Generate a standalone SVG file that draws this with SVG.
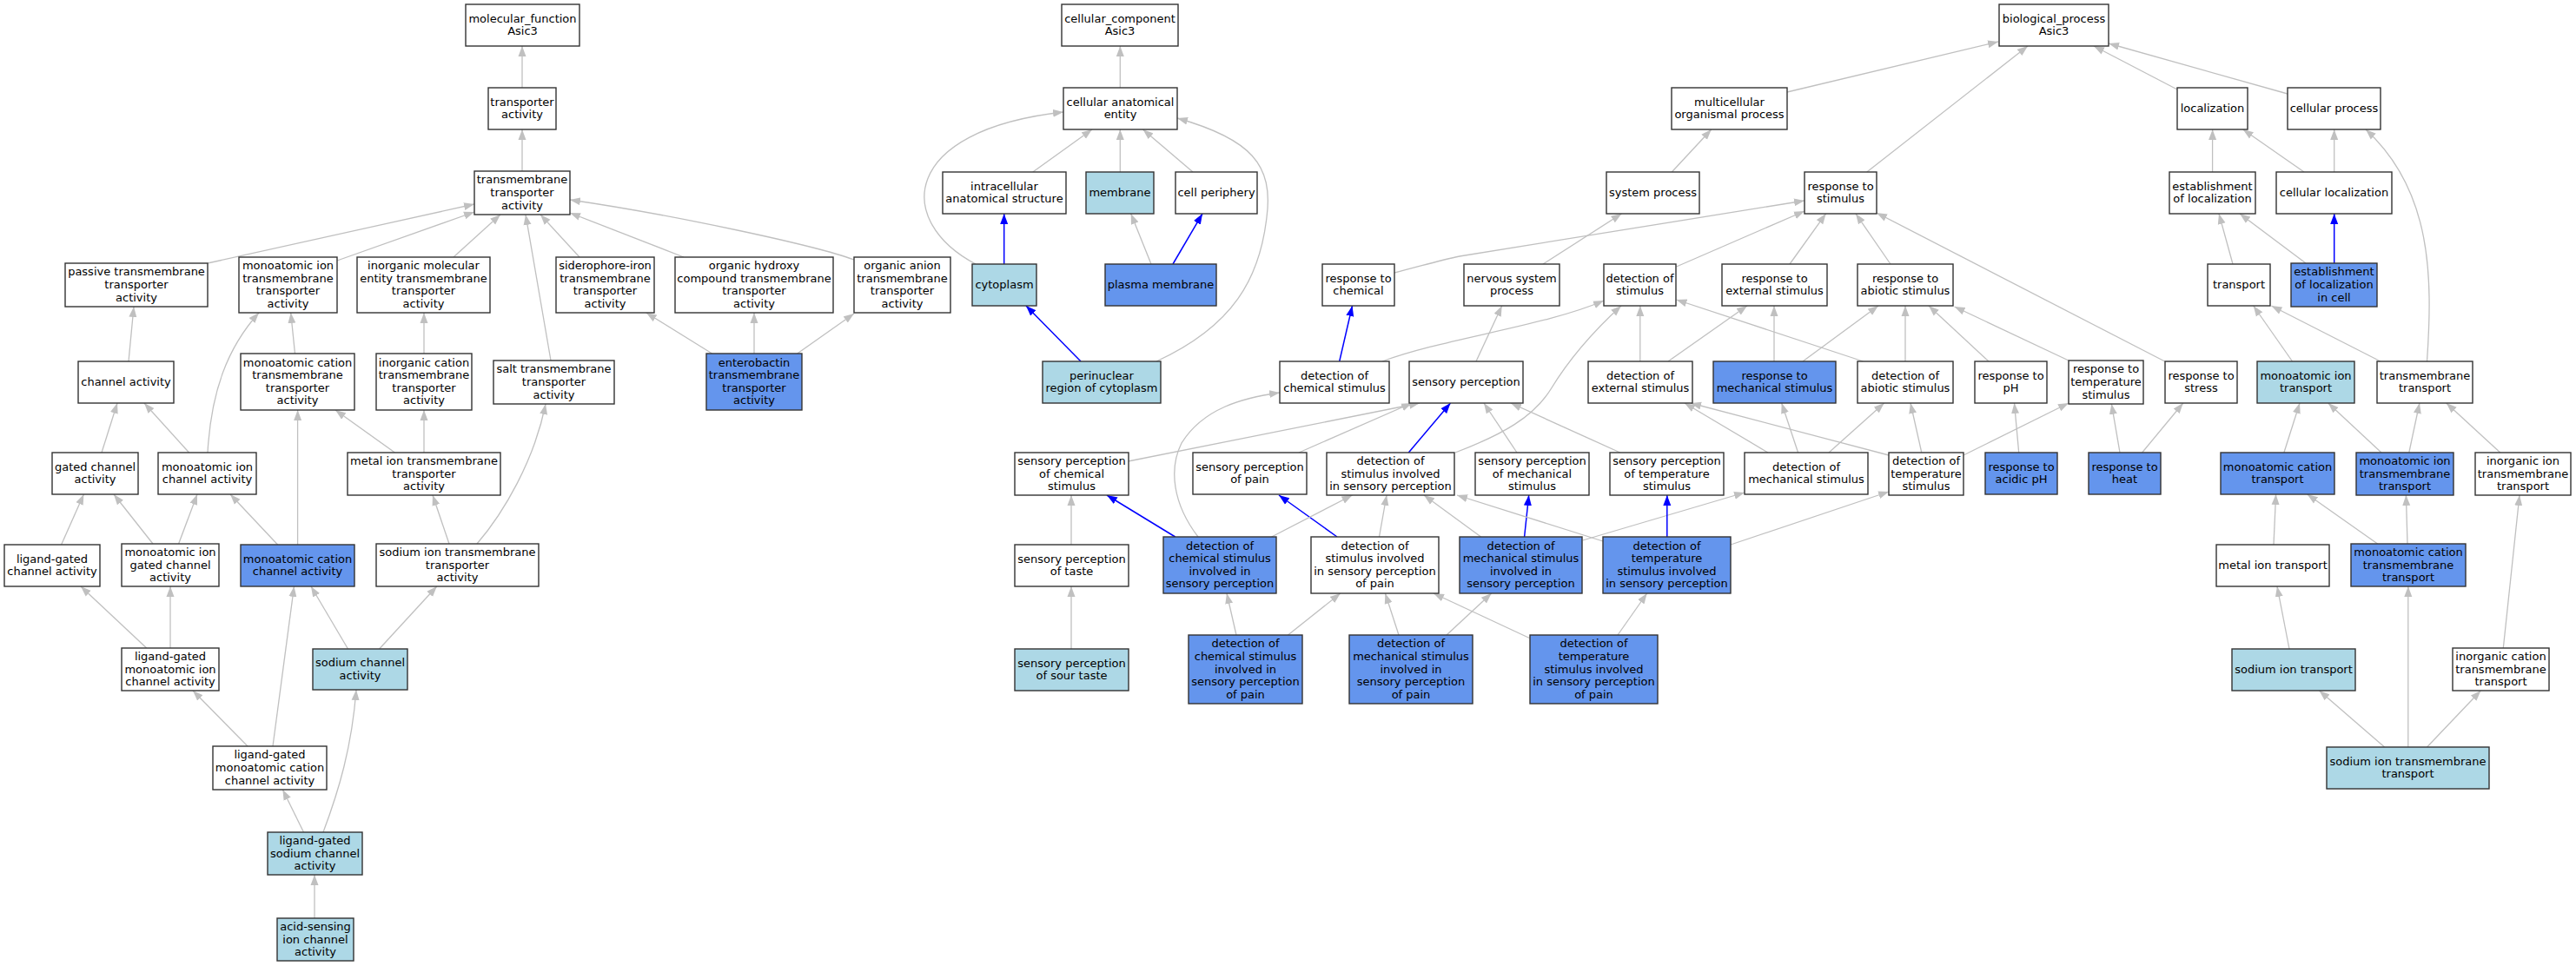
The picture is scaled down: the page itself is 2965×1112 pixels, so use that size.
<svg xmlns="http://www.w3.org/2000/svg" width="2965" height="1112" viewBox="0 0 2965 1112">
<defs>
<style>
.nd rect{stroke:#333;stroke-width:1.4}
.w{fill:#fff}.lb{fill:#add8e6}.cb{fill:#6495ed}
text{font-family:"DejaVu Sans","Liberation Sans",sans-serif;font-size:13px;text-anchor:middle;fill:#000}
.e{fill:none;stroke:#c0c0c0;stroke-width:1.3;marker-end:url(#ag)}
.b{fill:none;stroke:#0000ff;stroke-width:1.5;marker-end:url(#ab)}
</style>
<marker id="ag" markerUnits="userSpaceOnUse" markerWidth="12" markerHeight="10" viewBox="0 0 12 10" refX="12" refY="5" orient="auto"><path d="M0,0.5 L12,5 L0,9.5z" fill="#c0c0c0"/></marker>
<marker id="ab" markerUnits="userSpaceOnUse" markerWidth="12" markerHeight="10" viewBox="0 0 12 10" refX="12" refY="5" orient="auto"><path d="M0,0.5 L12,5 L0,9.5z" fill="#0000ff"/></marker>
</defs>
<rect x="0" y="0" width="2965" height="1112" fill="#fff"/>
<g id="edges">
<path class="e" d="M601,101 L601,53"/>
<path class="e" d="M601,197 L601,149"/>
<path class="e" d="M239,303 L546,235"/>
<path class="e" d="M388,300 L546,244"/>
<path class="e" d="M522,296 L576,247"/>
<path class="e" d="M667,296 L622,247"/>
<path class="e" d="M634,415 L605,247"/>
<path class="e" d="M787,296 L656,245"/>
<path class="e" d="M983,299 C940,283 780,248 656,230"/>
<path class="e" d="M148,416 L154,353"/>
<path class="e" d="M339.5,407 L334.7,360"/>
<path class="e" d="M488,407 L488,360"/>
<path class="e" d="M117,521 L135,464"/>
<path class="e" d="M217.6,521 L166,464"/>
<path class="e" d="M239,521 C243,450 262,400 298,360"/>
<path class="e" d="M454.5,521 L386,472"/>
<path class="e" d="M488,521 L488,472"/>
<path class="e" d="M342.6,627 L342.6,472"/>
<path class="e" d="M549,626 C580,590 615,530 628,465"/>
<path class="e" d="M517,626 L498,570"/>
<path class="e" d="M70.6,627 L96.4,569"/>
<path class="e" d="M176,626 L131,569"/>
<path class="e" d="M205.6,626 L227,569"/>
<path class="e" d="M319.6,627 L265,569"/>
<path class="e" d="M168.7,746 L93,675"/>
<path class="e" d="M196,746 L196,675"/>
<path class="e" d="M400.5,747 L358,675"/>
<path class="e" d="M436.6,747 L502.8,675"/>
<path class="e" d="M285,859 L222,795"/>
<path class="e" d="M314,859 L338.5,675"/>
<path class="e" d="M349.5,958 L325.4,909"/>
<path class="e" d="M372,958 C390,910 405,860 410,794"/>
<path class="e" d="M362,1057 L362,1007"/>
<path class="e" d="M819.6,407 L743.8,360"/>
<path class="e" d="M868,407 L868,360"/>
<path class="e" d="M917.7,407 L983,361"/>
<path class="e" d="M1289.3,101 L1289.3,53"/>
<path class="e" d="M1188.8,198 L1257,149"/>
<path class="e" d="M1289.3,198 L1289.3,149"/>
<path class="e" d="M1373,198 L1315.5,149"/>
<path class="e" d="M1123,304 C1030,255 1035,150 1224,129"/>
<path class="b" d="M1155.7,304 L1155.7,246"/>
<path class="e" d="M1325,304 L1301.7,246"/>
<path class="b" d="M1350,304 L1384,246"/>
<path class="b" d="M1244,416 L1181,352"/>
<path class="e" d="M1331,416 C1420,375 1450,320 1458,250 C1466,190 1440,160 1355,136"/>
<path class="e" d="M2057,106 L2300,48"/>
<path class="e" d="M2148.8,198 L2334,53"/>
<path class="e" d="M2506,103 L2410,53"/>
<path class="e" d="M2633,108 L2427,50"/>
<path class="e" d="M1924.3,198 L1969.8,149"/>
<path class="e" d="M1605,314 C1640,305 1660,299 1680,295 L2077,231"/>
<path class="e" d="M1776,304 L1866.5,246"/>
<path class="e" d="M1929.5,307 L2077,243"/>
<path class="e" d="M2060,304 L2101.6,246"/>
<path class="e" d="M2176,304 L2136,246"/>
<path class="e" d="M2491.7,416 L2160,245"/>
<path class="b" d="M1541.7,416 L1556.5,352"/>
<path class="e" d="M1591,416 C1660,390 1780,375 1846,346"/>
<path class="e" d="M1699,416 L1728.7,352"/>
<path class="e" d="M1887.8,416 L1887.8,352"/>
<path class="e" d="M1920,416 L2011,352"/>
<path class="e" d="M2042,416 L2042,352"/>
<path class="e" d="M2075,416 L2162,352"/>
<path class="e" d="M2144.6,416 L1929.5,345"/>
<path class="e" d="M2193,416 L2193,352"/>
<path class="e" d="M2289,416 L2220,352"/>
<path class="e" d="M2381,415 L2249.6,353"/>
<path class="e" d="M1675,521 C1730,500 1765,480 1785,448 C1805,415 1830,385 1866,352"/>
<path class="b" d="M1621.3,521 L1669.5,464"/>
<path class="e" d="M1746,521 L1708,464"/>
<path class="e" d="M1864.8,521 L1739,464"/>
<path class="e" d="M1298.6,531 L1634,464"/>
<path class="e" d="M1495,521 L1625,464"/>
<path class="e" d="M2035,521 L1939,464"/>
<path class="e" d="M2069.6,521 L2050.7,464"/>
<path class="e" d="M2105,521 L2168.7,464"/>
<path class="e" d="M2174,524 L1946,464"/>
<path class="e" d="M2211.8,521 L2199,464"/>
<path class="e" d="M2260,524 L2381,464"/>
<path class="e" d="M2323.7,521 L2318.5,464"/>
<path class="e" d="M2440,521 L2430.4,465"/>
<path class="e" d="M2465.6,521 L2512.8,464"/>
<path class="e" d="M1233,627 L1233,570"/>
<path class="e" d="M1233,747 L1233,675"/>
<path class="b" d="M1352.7,618 L1274,570"/>
<path class="e" d="M1379,618 C1350,580 1345,540 1360,510 C1385,470 1430,458 1473,452"/>
<path class="b" d="M1539,618 L1472,570"/>
<path class="e" d="M1587.5,618 L1596,570"/>
<path class="e" d="M1463.6,618 L1556.5,570"/>
<path class="b" d="M1754.6,618 L1759.7,570"/>
<path class="e" d="M1704.6,618 L1639,570"/>
<path class="e" d="M1821.7,622 L2008,567"/>
<path class="b" d="M1918.8,618 L1918.8,570"/>
<path class="e" d="M1845,623 L1677,570"/>
<path class="e" d="M1992,627 L2174,566"/>
<path class="e" d="M1423,731 L1412,683"/>
<path class="e" d="M1482.5,731 L1542.8,683"/>
<path class="e" d="M1610,731 L1594.4,683"/>
<path class="e" d="M1665,731 L1716.7,683"/>
<path class="e" d="M1760.4,734.5 L1650,683"/>
<path class="e" d="M1862,731 L1895.7,683"/>
<path class="e" d="M2546.6,198 L2546.6,149"/>
<path class="e" d="M2652,198 L2581.7,149"/>
<path class="e" d="M2686.7,198 L2686.7,149"/>
<path class="e" d="M2570,304 L2554,246"/>
<path class="e" d="M2654,303 L2578,246"/>
<path class="b" d="M2686.7,303 L2686.7,246"/>
<path class="e" d="M2793.5,416 C2800,320 2800,220 2723,149"/>
<path class="e" d="M2638.5,416 L2593.7,352"/>
<path class="e" d="M2740,416 L2614.4,352"/>
<path class="e" d="M2628.9,521 L2647,464"/>
<path class="e" d="M2741,521 L2679.8,464"/>
<path class="e" d="M2772.8,521 L2784.9,464"/>
<path class="e" d="M2877.8,521 L2815.8,464"/>
<path class="e" d="M2617,627 L2619.6,569"/>
<path class="e" d="M2736.6,626 L2655.7,569"/>
<path class="e" d="M2771,626 L2769.4,570"/>
<path class="e" d="M2635,747 L2621,675"/>
<path class="e" d="M2881.3,746 L2900,570"/>
<path class="e" d="M2744.6,860 L2669.5,795"/>
<path class="e" d="M2771.8,860 L2771.8,675"/>
<path class="e" d="M2793.5,860 L2855.4,795"/>
</g>
<g id="n_mf" class="nd"><rect class="w" x="536" y="5" width="131" height="48"/><text><tspan x="601.5" y="25.7">molecular_function</tspan><tspan x="601.5" y="40.3">Asic3</tspan></text></g>
<g id="n_ta" class="nd"><rect class="w" x="562" y="101" width="78" height="48"/><text><tspan x="601" y="121.7">transporter</tspan><tspan x="601" y="136.3">activity</tspan></text></g>
<g id="n_tta" class="nd"><rect class="w" x="546" y="197" width="110" height="50"/><text><tspan x="601" y="211.4">transmembrane</tspan><tspan x="601" y="226">transporter</tspan><tspan x="601" y="240.6">activity</tspan></text></g>
<g id="n_passive" class="nd"><rect class="w" x="75" y="303" width="164" height="50"/><text><tspan x="157" y="317.4">passive transmembrane</tspan><tspan x="157" y="332">transporter</tspan><tspan x="157" y="346.6">activity</tspan></text></g>
<g id="n_mitta" class="nd"><rect class="w" x="275" y="296" width="113" height="64"/><text><tspan x="331.5" y="310.1">monoatomic ion</tspan><tspan x="331.5" y="324.7">transmembrane</tspan><tspan x="331.5" y="339.3">transporter</tspan><tspan x="331.5" y="353.9">activity</tspan></text></g>
<g id="n_imeta" class="nd"><rect class="w" x="411" y="296" width="153" height="64"/><text><tspan x="487.5" y="310.1">inorganic molecular</tspan><tspan x="487.5" y="324.7">entity transmembrane</tspan><tspan x="487.5" y="339.3">transporter</tspan><tspan x="487.5" y="353.9">activity</tspan></text></g>
<g id="n_sita" class="nd"><rect class="w" x="640" y="296" width="113" height="64"/><text><tspan x="696.5" y="310.1">siderophore-iron</tspan><tspan x="696.5" y="324.7">transmembrane</tspan><tspan x="696.5" y="339.3">transporter</tspan><tspan x="696.5" y="353.9">activity</tspan></text></g>
<g id="n_ohcta" class="nd"><rect class="w" x="777" y="296" width="182" height="64"/><text><tspan x="868" y="310.1">organic hydroxy</tspan><tspan x="868" y="324.7">compound transmembrane</tspan><tspan x="868" y="339.3">transporter</tspan><tspan x="868" y="353.9">activity</tspan></text></g>
<g id="n_oata" class="nd"><rect class="w" x="983" y="296" width="111" height="64"/><text><tspan x="1038.5" y="310.1">organic anion</tspan><tspan x="1038.5" y="324.7">transmembrane</tspan><tspan x="1038.5" y="339.3">transporter</tspan><tspan x="1038.5" y="353.9">activity</tspan></text></g>
<g id="n_chan" class="nd"><rect class="w" x="90" y="416" width="110" height="48"/><text><tspan x="145" y="444">channel activity</tspan></text></g>
<g id="n_mcta" class="nd"><rect class="w" x="277" y="407" width="131" height="65"/><text><tspan x="342.5" y="421.6">monoatomic cation</tspan><tspan x="342.5" y="436.2">transmembrane</tspan><tspan x="342.5" y="450.8">transporter</tspan><tspan x="342.5" y="465.4">activity</tspan></text></g>
<g id="n_icta" class="nd"><rect class="w" x="433" y="407" width="110" height="65"/><text><tspan x="488" y="421.6">inorganic cation</tspan><tspan x="488" y="436.2">transmembrane</tspan><tspan x="488" y="450.8">transporter</tspan><tspan x="488" y="465.4">activity</tspan></text></g>
<g id="n_salt" class="nd"><rect class="w" x="568" y="415" width="139" height="50"/><text><tspan x="637.5" y="429.4">salt transmembrane</tspan><tspan x="637.5" y="444">transporter</tspan><tspan x="637.5" y="458.6">activity</tspan></text></g>
<g id="n_ent" class="nd"><rect class="cb" x="813" y="407" width="110" height="65"/><text><tspan x="868" y="421.6">enterobactin</tspan><tspan x="868" y="436.2">transmembrane</tspan><tspan x="868" y="450.8">transporter</tspan><tspan x="868" y="465.4">activity</tspan></text></g>
<g id="n_gca" class="nd"><rect class="w" x="60" y="521" width="99" height="48"/><text><tspan x="109.5" y="541.7">gated channel</tspan><tspan x="109.5" y="556.3">activity</tspan></text></g>
<g id="n_mica" class="nd"><rect class="w" x="182" y="521" width="113" height="48"/><text><tspan x="238.5" y="541.7">monoatomic ion</tspan><tspan x="238.5" y="556.3">channel activity</tspan></text></g>
<g id="n_mita" class="nd"><rect class="w" x="400" y="521" width="176" height="49"/><text><tspan x="488" y="534.9">metal ion transmembrane</tspan><tspan x="488" y="549.5">transporter</tspan><tspan x="488" y="564.1">activity</tspan></text></g>
<g id="n_lgca" class="nd"><rect class="w" x="5" y="627" width="110" height="48"/><text><tspan x="60" y="647.7">ligand-gated</tspan><tspan x="60" y="662.3">channel activity</tspan></text></g>
<g id="n_migca" class="nd"><rect class="w" x="140" y="626" width="112" height="49"/><text><tspan x="196" y="639.9">monoatomic ion</tspan><tspan x="196" y="654.5">gated channel</tspan><tspan x="196" y="669.1">activity</tspan></text></g>
<g id="n_mcca" class="nd"><rect class="cb" x="277" y="627" width="131" height="48"/><text><tspan x="342.5" y="647.7">monoatomic cation</tspan><tspan x="342.5" y="662.3">channel activity</tspan></text></g>
<g id="n_sitta" class="nd"><rect class="w" x="433" y="626" width="187" height="49"/><text><tspan x="526.5" y="639.9">sodium ion transmembrane</tspan><tspan x="526.5" y="654.5">transporter</tspan><tspan x="526.5" y="669.1">activity</tspan></text></g>
<g id="n_lgmica" class="nd"><rect class="w" x="140" y="746" width="112" height="49"/><text><tspan x="196" y="759.9">ligand-gated</tspan><tspan x="196" y="774.5">monoatomic ion</tspan><tspan x="196" y="789.1">channel activity</tspan></text></g>
<g id="n_sca" class="nd"><rect class="lb" x="360" y="747" width="109" height="47"/><text><tspan x="414.5" y="767.2">sodium channel</tspan><tspan x="414.5" y="781.8">activity</tspan></text></g>
<g id="n_lgmcca" class="nd"><rect class="w" x="245" y="859" width="131" height="50"/><text><tspan x="310.5" y="873.4">ligand-gated</tspan><tspan x="310.5" y="888">monoatomic cation</tspan><tspan x="310.5" y="902.6">channel activity</tspan></text></g>
<g id="n_lgsca" class="nd"><rect class="lb" x="308" y="958" width="109" height="49"/><text><tspan x="362.5" y="971.9">ligand-gated</tspan><tspan x="362.5" y="986.5">sodium channel</tspan><tspan x="362.5" y="1001.1">activity</tspan></text></g>
<g id="n_asic" class="nd"><rect class="lb" x="319" y="1057" width="88" height="49"/><text><tspan x="363" y="1070.9">acid-sensing</tspan><tspan x="363" y="1085.5">ion channel</tspan><tspan x="363" y="1100.1">activity</tspan></text></g>
<g id="n_cc" class="nd"><rect class="w" x="1222" y="5" width="134" height="48"/><text><tspan x="1289" y="25.7">cellular_component</tspan><tspan x="1289" y="40.3">Asic3</tspan></text></g>
<g id="n_cae" class="nd"><rect class="w" x="1224" y="101" width="131" height="48"/><text><tspan x="1289.5" y="121.7">cellular anatomical</tspan><tspan x="1289.5" y="136.3">entity</tspan></text></g>
<g id="n_ias" class="nd"><rect class="w" x="1085" y="198" width="142" height="48"/><text><tspan x="1156" y="218.7">intracellular</tspan><tspan x="1156" y="233.3">anatomical structure</tspan></text></g>
<g id="n_mem" class="nd"><rect class="lb" x="1250" y="198" width="78" height="48"/><text><tspan x="1289" y="226">membrane</tspan></text></g>
<g id="n_cp" class="nd"><rect class="w" x="1353" y="198" width="94" height="48"/><text><tspan x="1400" y="226">cell periphery</tspan></text></g>
<g id="n_cyto" class="nd"><rect class="lb" x="1119" y="304" width="74" height="48"/><text><tspan x="1156" y="332">cytoplasm</tspan></text></g>
<g id="n_pm" class="nd"><rect class="cb" x="1272" y="304" width="128" height="48"/><text><tspan x="1336" y="332">plasma membrane</tspan></text></g>
<g id="n_peri" class="nd"><rect class="lb" x="1200" y="416" width="136" height="48"/><text><tspan x="1268" y="436.7">perinuclear</tspan><tspan x="1268" y="451.3">region of cytoplasm</tspan></text></g>
<g id="n_bp" class="nd"><rect class="w" x="2301" y="5" width="126" height="48"/><text><tspan x="2364" y="25.7">biological_process</tspan><tspan x="2364" y="40.3">Asic3</tspan></text></g>
<g id="n_mop" class="nd"><rect class="w" x="1924" y="101" width="133" height="48"/><text><tspan x="1990.5" y="121.7">multicellular</tspan><tspan x="1990.5" y="136.3">organismal process</tspan></text></g>
<g id="n_loc" class="nd"><rect class="w" x="2506" y="101" width="81" height="48"/><text><tspan x="2546.5" y="129">localization</tspan></text></g>
<g id="n_cproc" class="nd"><rect class="w" x="2633" y="101" width="107" height="48"/><text><tspan x="2686.5" y="129">cellular process</tspan></text></g>
<g id="n_sp" class="nd"><rect class="w" x="1849" y="198" width="107" height="48"/><text><tspan x="1902.5" y="226">system process</tspan></text></g>
<g id="n_rts" class="nd"><rect class="w" x="2077" y="198" width="83" height="48"/><text><tspan x="2118.5" y="218.7">response to</tspan><tspan x="2118.5" y="233.3">stimulus</tspan></text></g>
<g id="n_eol" class="nd"><rect class="w" x="2497" y="198" width="99" height="48"/><text><tspan x="2546.5" y="218.7">establishment</tspan><tspan x="2546.5" y="233.3">of localization</tspan></text></g>
<g id="n_cloc" class="nd"><rect class="w" x="2620" y="198" width="133" height="48"/><text><tspan x="2686.5" y="226">cellular localization</tspan></text></g>
<g id="n_rtc" class="nd"><rect class="w" x="1522" y="304" width="83" height="48"/><text><tspan x="1563.5" y="324.7">response to</tspan><tspan x="1563.5" y="339.3">chemical</tspan></text></g>
<g id="n_nsp" class="nd"><rect class="w" x="1685" y="304" width="110" height="48"/><text><tspan x="1740" y="324.7">nervous system</tspan><tspan x="1740" y="339.3">process</tspan></text></g>
<g id="n_dos" class="nd"><rect class="w" x="1846" y="304" width="83" height="48"/><text><tspan x="1887.5" y="324.7">detection of</tspan><tspan x="1887.5" y="339.3">stimulus</tspan></text></g>
<g id="n_rtes" class="nd"><rect class="w" x="1982" y="304" width="121" height="48"/><text><tspan x="2042.5" y="324.7">response to</tspan><tspan x="2042.5" y="339.3">external stimulus</tspan></text></g>
<g id="n_rtas" class="nd"><rect class="w" x="2138" y="304" width="110" height="48"/><text><tspan x="2193" y="324.7">response to</tspan><tspan x="2193" y="339.3">abiotic stimulus</tspan></text></g>
<g id="n_transport" class="nd"><rect class="w" x="2541" y="304" width="72" height="48"/><text><tspan x="2577" y="332">transport</tspan></text></g>
<g id="n_eolic" class="nd"><rect class="cb" x="2637" y="303" width="99" height="50"/><text><tspan x="2686.5" y="317.4">establishment</tspan><tspan x="2686.5" y="332">of localization</tspan><tspan x="2686.5" y="346.6">in cell</tspan></text></g>
<g id="n_dcs" class="nd"><rect class="w" x="1473" y="416" width="126" height="48"/><text><tspan x="1536" y="436.7">detection of</tspan><tspan x="1536" y="451.3">chemical stimulus</tspan></text></g>
<g id="n_sens" class="nd"><rect class="w" x="1622" y="416" width="131" height="48"/><text><tspan x="1687.5" y="444">sensory perception</tspan></text></g>
<g id="n_des" class="nd"><rect class="w" x="1828" y="416" width="120" height="48"/><text><tspan x="1888" y="436.7">detection of</tspan><tspan x="1888" y="451.3">external stimulus</tspan></text></g>
<g id="n_rtms" class="nd"><rect class="cb" x="1972" y="416" width="141" height="48"/><text><tspan x="2042.5" y="436.7">response to</tspan><tspan x="2042.5" y="451.3">mechanical stimulus</tspan></text></g>
<g id="n_das" class="nd"><rect class="w" x="2138" y="416" width="110" height="48"/><text><tspan x="2193" y="436.7">detection of</tspan><tspan x="2193" y="451.3">abiotic stimulus</tspan></text></g>
<g id="n_rtph" class="nd"><rect class="w" x="2273" y="416" width="83" height="48"/><text><tspan x="2314.5" y="436.7">response to</tspan><tspan x="2314.5" y="451.3">pH</tspan></text></g>
<g id="n_rtts" class="nd"><rect class="w" x="2381" y="415" width="86" height="50"/><text><tspan x="2424" y="429.4">response to</tspan><tspan x="2424" y="444">temperature</tspan><tspan x="2424" y="458.6">stimulus</tspan></text></g>
<g id="n_rtstress" class="nd"><rect class="w" x="2492" y="416" width="83" height="48"/><text><tspan x="2533.5" y="436.7">response to</tspan><tspan x="2533.5" y="451.3">stress</tspan></text></g>
<g id="n_mit" class="nd"><rect class="lb" x="2598" y="416" width="112" height="48"/><text><tspan x="2654" y="436.7">monoatomic ion</tspan><tspan x="2654" y="451.3">transport</tspan></text></g>
<g id="n_tmt" class="nd"><rect class="w" x="2736" y="416" width="110" height="48"/><text><tspan x="2791" y="436.7">transmembrane</tspan><tspan x="2791" y="451.3">transport</tspan></text></g>
<g id="n_spcs" class="nd"><rect class="w" x="1168" y="521" width="131" height="49"/><text><tspan x="1233.5" y="534.9">sensory perception</tspan><tspan x="1233.5" y="549.5">of chemical</tspan><tspan x="1233.5" y="564.1">stimulus</tspan></text></g>
<g id="n_spp" class="nd"><rect class="w" x="1373" y="521" width="131" height="48"/><text><tspan x="1438.5" y="541.7">sensory perception</tspan><tspan x="1438.5" y="556.3">of pain</tspan></text></g>
<g id="n_dsisp" class="nd"><rect class="w" x="1527" y="521" width="147" height="49"/><text><tspan x="1600.5" y="534.9">detection of</tspan><tspan x="1600.5" y="549.5">stimulus involved</tspan><tspan x="1600.5" y="564.1">in sensory perception</tspan></text></g>
<g id="n_spms" class="nd"><rect class="w" x="1698" y="521" width="131" height="49"/><text><tspan x="1763.5" y="534.9">sensory perception</tspan><tspan x="1763.5" y="549.5">of mechanical</tspan><tspan x="1763.5" y="564.1">stimulus</tspan></text></g>
<g id="n_spts" class="nd"><rect class="w" x="1853" y="521" width="131" height="49"/><text><tspan x="1918.5" y="534.9">sensory perception</tspan><tspan x="1918.5" y="549.5">of temperature</tspan><tspan x="1918.5" y="564.1">stimulus</tspan></text></g>
<g id="n_dms" class="nd"><rect class="w" x="2008" y="521" width="142" height="48"/><text><tspan x="2079" y="541.7">detection of</tspan><tspan x="2079" y="556.3">mechanical stimulus</tspan></text></g>
<g id="n_dts" class="nd"><rect class="w" x="2174" y="521" width="86" height="49"/><text><tspan x="2217" y="534.9">detection of</tspan><tspan x="2217" y="549.5">temperature</tspan><tspan x="2217" y="564.1">stimulus</tspan></text></g>
<g id="n_rtaph" class="nd"><rect class="cb" x="2285" y="521" width="83" height="48"/><text><tspan x="2326.5" y="541.7">response to</tspan><tspan x="2326.5" y="556.3">acidic pH</tspan></text></g>
<g id="n_rth" class="nd"><rect class="cb" x="2404" y="521" width="83" height="48"/><text><tspan x="2445.5" y="541.7">response to</tspan><tspan x="2445.5" y="556.3">heat</tspan></text></g>
<g id="n_mct" class="nd"><rect class="cb" x="2556" y="521" width="131" height="48"/><text><tspan x="2621.5" y="541.7">monoatomic cation</tspan><tspan x="2621.5" y="556.3">transport</tspan></text></g>
<g id="n_mitt" class="nd"><rect class="cb" x="2712" y="521" width="112" height="49"/><text><tspan x="2768" y="534.9">monoatomic ion</tspan><tspan x="2768" y="549.5">transmembrane</tspan><tspan x="2768" y="564.1">transport</tspan></text></g>
<g id="n_iitt" class="nd"><rect class="w" x="2849" y="521" width="110" height="49"/><text><tspan x="2904" y="534.9">inorganic ion</tspan><tspan x="2904" y="549.5">transmembrane</tspan><tspan x="2904" y="564.1">transport</tspan></text></g>
<g id="n_spt" class="nd"><rect class="w" x="1168" y="627" width="131" height="48"/><text><tspan x="1233.5" y="647.7">sensory perception</tspan><tspan x="1233.5" y="662.3">of taste</tspan></text></g>
<g id="n_dcsisp" class="nd"><rect class="cb" x="1339" y="618" width="130" height="65"/><text><tspan x="1404" y="632.6">detection of</tspan><tspan x="1404" y="647.2">chemical stimulus</tspan><tspan x="1404" y="661.8">involved in</tspan><tspan x="1404" y="676.4">sensory perception</tspan></text></g>
<g id="n_dsispp" class="nd"><rect class="w" x="1509" y="618" width="147" height="65"/><text><tspan x="1582.5" y="632.6">detection of</tspan><tspan x="1582.5" y="647.2">stimulus involved</tspan><tspan x="1582.5" y="661.8">in sensory perception</tspan><tspan x="1582.5" y="676.4">of pain</tspan></text></g>
<g id="n_dmsisp" class="nd"><rect class="cb" x="1680" y="618" width="141" height="65"/><text><tspan x="1750.5" y="632.6">detection of</tspan><tspan x="1750.5" y="647.2">mechanical stimulus</tspan><tspan x="1750.5" y="661.8">involved in</tspan><tspan x="1750.5" y="676.4">sensory perception</tspan></text></g>
<g id="n_dtsisp" class="nd"><rect class="cb" x="1845" y="618" width="147" height="65"/><text><tspan x="1918.5" y="632.6">detection of</tspan><tspan x="1918.5" y="647.2">temperature</tspan><tspan x="1918.5" y="661.8">stimulus involved</tspan><tspan x="1918.5" y="676.4">in sensory perception</tspan></text></g>
<g id="n_mitr" class="nd"><rect class="w" x="2551" y="627" width="130" height="48"/><text><tspan x="2616" y="655">metal ion transport</tspan></text></g>
<g id="n_mctt" class="nd"><rect class="cb" x="2706" y="626" width="132" height="49"/><text><tspan x="2772" y="639.9">monoatomic cation</tspan><tspan x="2772" y="654.5">transmembrane</tspan><tspan x="2772" y="669.1">transport</tspan></text></g>
<g id="n_spst" class="nd"><rect class="lb" x="1168" y="747" width="131" height="48"/><text><tspan x="1233.5" y="767.7">sensory perception</tspan><tspan x="1233.5" y="782.3">of sour taste</tspan></text></g>
<g id="n_dcsispp" class="nd"><rect class="cb" x="1368" y="731" width="131" height="79"/><text><tspan x="1433.5" y="745.3">detection of</tspan><tspan x="1433.5" y="759.9">chemical stimulus</tspan><tspan x="1433.5" y="774.5">involved in</tspan><tspan x="1433.5" y="789.1">sensory perception</tspan><tspan x="1433.5" y="803.7">of pain</tspan></text></g>
<g id="n_dmsispp" class="nd"><rect class="cb" x="1553" y="731" width="142" height="79"/><text><tspan x="1624" y="745.3">detection of</tspan><tspan x="1624" y="759.9">mechanical stimulus</tspan><tspan x="1624" y="774.5">involved in</tspan><tspan x="1624" y="789.1">sensory perception</tspan><tspan x="1624" y="803.7">of pain</tspan></text></g>
<g id="n_dtsispp" class="nd"><rect class="cb" x="1761" y="731" width="147" height="79"/><text><tspan x="1834.5" y="745.3">detection of</tspan><tspan x="1834.5" y="759.9">temperature</tspan><tspan x="1834.5" y="774.5">stimulus involved</tspan><tspan x="1834.5" y="789.1">in sensory perception</tspan><tspan x="1834.5" y="803.7">of pain</tspan></text></g>
<g id="n_sit" class="nd"><rect class="lb" x="2569" y="747" width="142" height="48"/><text><tspan x="2640" y="775">sodium ion transport</tspan></text></g>
<g id="n_ictt" class="nd"><rect class="w" x="2823" y="746" width="111" height="49"/><text><tspan x="2878.5" y="759.9">inorganic cation</tspan><tspan x="2878.5" y="774.5">transmembrane</tspan><tspan x="2878.5" y="789.1">transport</tspan></text></g>
<g id="n_sitt" class="nd"><rect class="lb" x="2678" y="860" width="187" height="48"/><text><tspan x="2771.5" y="880.7">sodium ion transmembrane</tspan><tspan x="2771.5" y="895.3">transport</tspan></text></g>
</svg>
